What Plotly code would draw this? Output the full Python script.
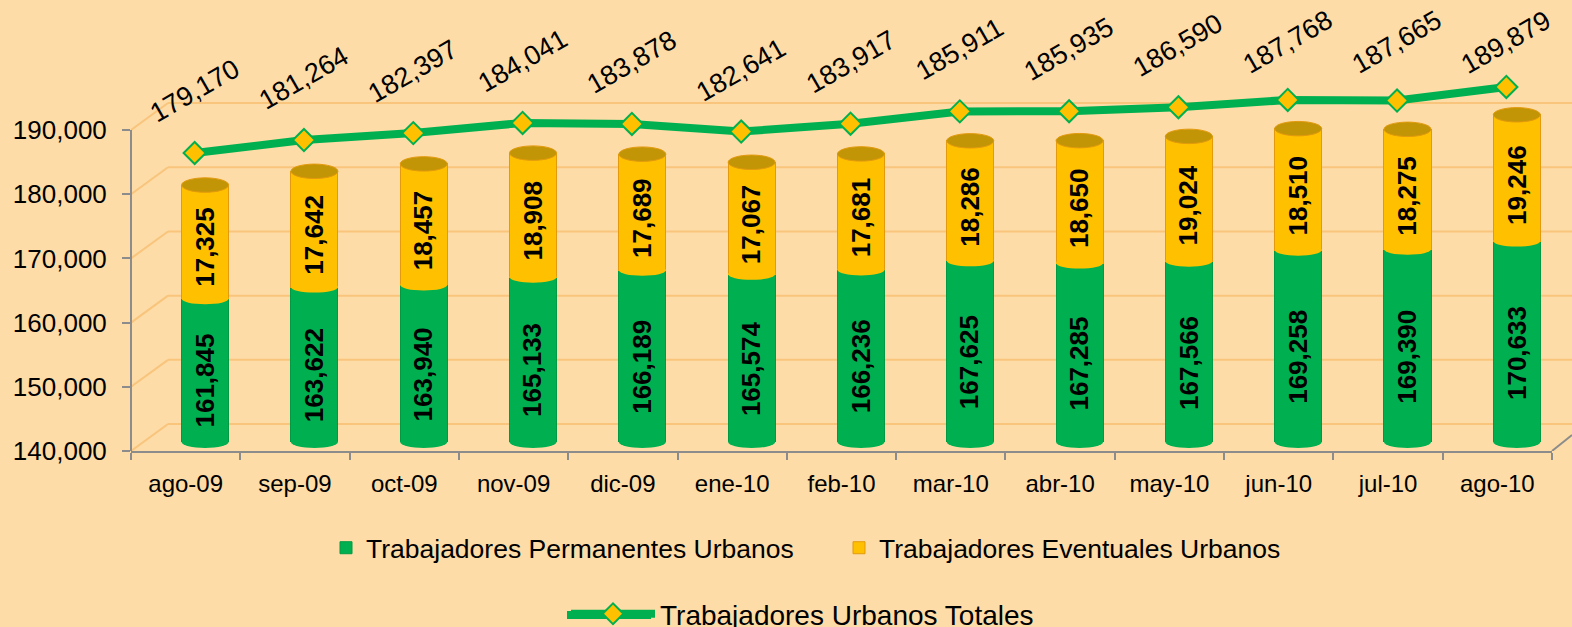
import plotly.graph_objects as go

# ---------------- data ----------------
months = ["ago-09", "sep-09", "oct-09", "nov-09", "dic-09", "ene-10", "feb-10",
          "mar-10", "abr-10", "may-10", "jun-10", "jul-10", "ago-10"]
permanentes = [161845, 163622, 163940, 165133, 166189, 165574, 166236,
               167625, 167285, 167566, 169258, 169390, 170633]
eventuales = [17325, 17642, 18457, 18908, 17689, 17067, 17681,
              18286, 18650, 19024, 18510, 18275, 19246]
totales = [179170, 181264, 182397, 184041, 183878, 182641, 183917,
           185911, 185935, 186590, 187768, 187665, 189879]
y_ticks = [140000, 150000, 160000, 170000, 180000, 190000]

# ---------------- style ----------------
BG = "#FDDCA7"
GREEN = "#00B050"
GOLD = "#FFC000"
GOLD_EDGE = "#E39A0C"
CAP = "#C29506"
GRID = "#F9C47C"
GRAY = "#8C8C8C"
FONT = "Liberation Sans, Arial, sans-serif"

W, H = 1572, 627
M_L, M_R, M_T, M_B = 131, 20, 40, 176
PLOT_W = W - M_L - M_R
PLOT_H = H - M_T - M_B
BOTTOM = H - M_B  # pixel row of the front floor edge

# front axis (tick labels): 6.42 px per 1000
Y_TOP = 140000 + PLOT_H / 0.00642
# bar axis (mid depth): starts 9px above the floor, 6.56 px per 1000
BAR_DOM0 = 9 / PLOT_H
Y2_TOP = 140000 + (PLOT_H - 9) / 0.00656
# line axis
Y3_LO, Y3_HI = 130872, 197484

BAR_W = 0.43
BAR_OFF = -0.037
BAR_SHIFT = 19  # px from category centre to bar centre
BACK_SHIFT = 4200  # back wall offset in front-axis units
BACK_X = (168 - M_L) / PLOT_W
RIGHT_X = (W - M_L) / PLOT_W


def px_line(v):
    return BOTTOM - (v - Y3_LO) * PLOT_H / (Y3_HI - Y3_LO)


def paper_x(px):
    return (px - M_L) / PLOT_W


def paper_y(px):
    return (BOTTOM - px) / PLOT_H


fig = go.Figure()

fig.add_trace(go.Bar(
    x=months, y=permanentes, name="Trabajadores Permanentes Urbanos",
    xaxis="x", yaxis="y2", width=BAR_W, offset=BAR_OFF,
    marker=dict(color=GREEN, line=dict(color="#009A44", width=1)),
    legend="legend", hoverinfo="skip"
))
fig.add_trace(go.Bar(
    x=months, y=eventuales, name="Trabajadores Eventuales Urbanos",
    xaxis="x", yaxis="y2", width=BAR_W, offset=BAR_OFF,
    marker=dict(color=GOLD, line=dict(color=GOLD_EDGE, width=1)),
    legend="legend", hoverinfo="skip"
))
fig.add_trace(go.Scatter(
    x=months, y=totales, name="Trabajadores Urbanos Totales",
    xaxis="x3", yaxis="y3", mode="lines+markers", cliponaxis=False,
    line=dict(color=GREEN, width=8),
    marker=dict(symbol="diamond", size=17, color=GOLD, line=dict(color=GREEN, width=2)),
    legend="legend2", hoverinfo="skip"
))

shapes = []
# back wall gridlines with the side-wall diagonals
for v in y_ticks:
    shapes.append(dict(type="line", xref="paper", yref="y", x0=0, y0=v, x1=BACK_X, y1=v + BACK_SHIFT,
                       line=dict(color=GRID, width=2), layer="below"))
    shapes.append(dict(type="line", xref="paper", yref="y", x0=BACK_X, y0=v + BACK_SHIFT, x1=RIGHT_X,
                       y1=v + BACK_SHIFT, line=dict(color=GRID, width=2), layer="below"))
# vertical axis line and right floor edge
shapes.append(dict(type="line", xref="paper", yref="y", x0=0, y0=y_ticks[0], x1=0, y1=y_ticks[-1],
                   line=dict(color=GRAY, width=2)))
shapes.append(dict(type="line", xref="paper", yref="y", x0=1, y0=y_ticks[0], x1=RIGHT_X,
                   y1=y_ticks[0] + 16 / 0.00642, line=dict(color=GRAY, width=2)))
# long line behind the legend symbol of the totals
shapes.append(dict(type="line", xref="paper", yref="paper", x0=paper_x(567), x1=paper_x(651),
                   y0=paper_y(615), y1=paper_y(615), line=dict(color=GREEN, width=8)))

# cylinder ends
for i, (p, t) in enumerate(zip(permanentes, totales)):
    x0, x1 = i + BAR_OFF, i + BAR_OFF + BAR_W
    shapes.append(dict(type="circle", xref="x", yref="paper", x0=x0, x1=x1,
                       y0=(BAR_DOM0 * PLOT_H - 6) / PLOT_H, y1=(BAR_DOM0 * PLOT_H + 6) / PLOT_H,
                       fillcolor=GREEN, line=dict(width=0)))
    shapes.append(dict(type="circle", xref="x", yref="y2", x0=x0, x1=x1, y0=p - 850, y1=p + 850,
                       fillcolor=GOLD, line=dict(width=0)))
    shapes.append(dict(type="circle", xref="x", yref="y2", x0=x0, x1=x1, y0=t - 1100, y1=t + 1100,
                       fillcolor=CAP, line=dict(color=GOLD_EDGE, width=1)))

annotations = []
for i, (p, e, t) in enumerate(zip(permanentes, eventuales, totales)):
    annotations.append(dict(xref="x", yref="y", x=i, y=(y_ticks[0] + p) / 2, xshift=BAR_SHIFT,
                            text=f"{p:,}", textangle=-90, showarrow=False,
                            font=dict(family=FONT, size=26, color="black", weight="bold")))
    annotations.append(dict(xref="x", yref="y", x=i, y=p + e / 2, xshift=BAR_SHIFT, yshift=8,
                            text=f"{e:,}", textangle=-90, showarrow=False,
                            font=dict(family=FONT, size=26, color="black", weight="bold")))
    annotations.append(dict(xref="x3", yref="y3", x=i, y=t, yshift=min(62, px_line(t) - 42),
                            text=f"{t:,}", textangle=-30, showarrow=False,
                            xanchor="center", yanchor="middle",
                            font=dict(family=FONT, size=27, color="black")))

fig.update_layout(
    width=W, height=H,
    margin=dict(l=M_L, r=M_R, t=M_T, b=M_B, autoexpand=False),
    paper_bgcolor=BG, plot_bgcolor="rgba(0,0,0,0)",
    font=dict(family=FONT, color="black"),
    barmode="stack",
    showlegend=True,
    xaxis=dict(domain=[0, 1], type="category", categoryorder="array", categoryarray=months,
               range=[-0.5, len(months) - 0.5], tickson="boundaries", ticks="outside",
               ticklen=7, tickwidth=2, tickcolor=GRAY, showline=True, linecolor=GRAY,
               linewidth=2, showgrid=False, tickfont=dict(size=24), ticklabelstandoff=10,
               anchor="y", fixedrange=True, automargin=False),
    yaxis=dict(domain=[0, 1], range=[140000, Y_TOP], tickvals=y_ticks, tickformat=",",
               ticks="outside", ticklen=8, tickwidth=2, tickcolor=GRAY, showgrid=False,
               zeroline=False, showline=False, tickfont=dict(size=26), ticklabelstandoff=10,
               fixedrange=True, automargin=False),
    yaxis2=dict(domain=[BAR_DOM0, 1], range=[140000, Y2_TOP], visible=False, anchor="x",
                fixedrange=True),
    xaxis3=dict(overlaying="x", type="category", categoryorder="array", categoryarray=months,
                range=[-0.5 - 9 / 109.3, len(months) - 0.5 - 9 / 109.3], visible=False),
    yaxis3=dict(overlaying="y", range=[Y3_LO, Y3_HI], visible=False),
    legend=dict(orientation="h", x=paper_x(326), xanchor="left", y=paper_y(548), yanchor="middle",
                font=dict(size=26.5), bgcolor="rgba(0,0,0,0)", entrywidth=468, traceorder="normal"),
    legend2=dict(orientation="h", x=paper_x(566), xanchor="left", y=paper_y(614), yanchor="middle",
                 font=dict(size=28), bgcolor="rgba(0,0,0,0)", itemwidth=84),
    shapes=shapes,
    annotations=annotations,
)

fig.write_html("out.html", config={"displayModeBar": False},
               post_script="document.body.style.margin='0';")
